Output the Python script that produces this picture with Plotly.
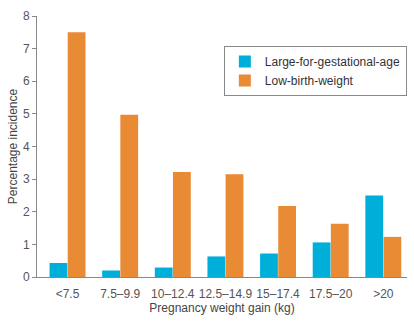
import plotly.graph_objects as go

categories = ["<7.5", "7.5–9.9", "10–12.4", "12.5–14.9", "15–17.4", "17.5–20", ">20"]
lga = [0.43, 0.2, 0.29, 0.63, 0.72, 1.06, 2.5]
lbw = [7.5, 4.97, 3.22, 3.15, 2.18, 1.63, 1.23]

x = list(range(len(categories)))

fig = go.Figure()
fig.add_trace(go.Bar(x=x, y=lga, name="Large-for-gestational-age",
                     marker=dict(color="#00AEDA", line=dict(width=0))))
fig.add_trace(go.Bar(x=x, y=lbw, name="Low-birth-weight",
                     marker=dict(color="#E98A35", line=dict(width=0))))

fig.update_layout(
    width=414, height=324,
    margin=dict(l=37, r=7, t=16, b=47),
    barmode="group", bargap=0.31, bargroupgap=0.02,
    plot_bgcolor="white", paper_bgcolor="white",
    font=dict(family="Liberation Sans, Arial, sans-serif", size=12, color="#444"),
    legend=dict(x=0.505, y=0.885, xanchor="left", yanchor="top",
                bordercolor="#888", borderwidth=1, bgcolor="white",
                font=dict(size=12, color="#333"),
                itemwidth=30, tracegroupgap=0),
    showlegend=True,
)
fig.update_xaxes(
    tickmode="array", tickvals=x, ticktext=categories,
    range=[-0.58, 6.45], showline=True, linecolor="#888", linewidth=1,
    ticks="outside", ticklen=6, tickcolor="rgba(0,0,0,0)", showgrid=False, zeroline=False,
    title=dict(text="Pregnancy weight gain (kg)", font=dict(size=12, color="#444"), standoff=3),
    tickfont=dict(size=12, color="#555"),
)
fig.update_yaxes(
    range=[0, 8], dtick=1, showline=True, linecolor="#888", linewidth=1,
    ticks="outside", ticklen=4, tickcolor="#888", showgrid=False, zeroline=False,
    title=dict(text="Percentage incidence", font=dict(size=12, color="#444"), standoff=2),
    tickfont=dict(size=12, color="#555"),
)
fig.write_html("out.html")
